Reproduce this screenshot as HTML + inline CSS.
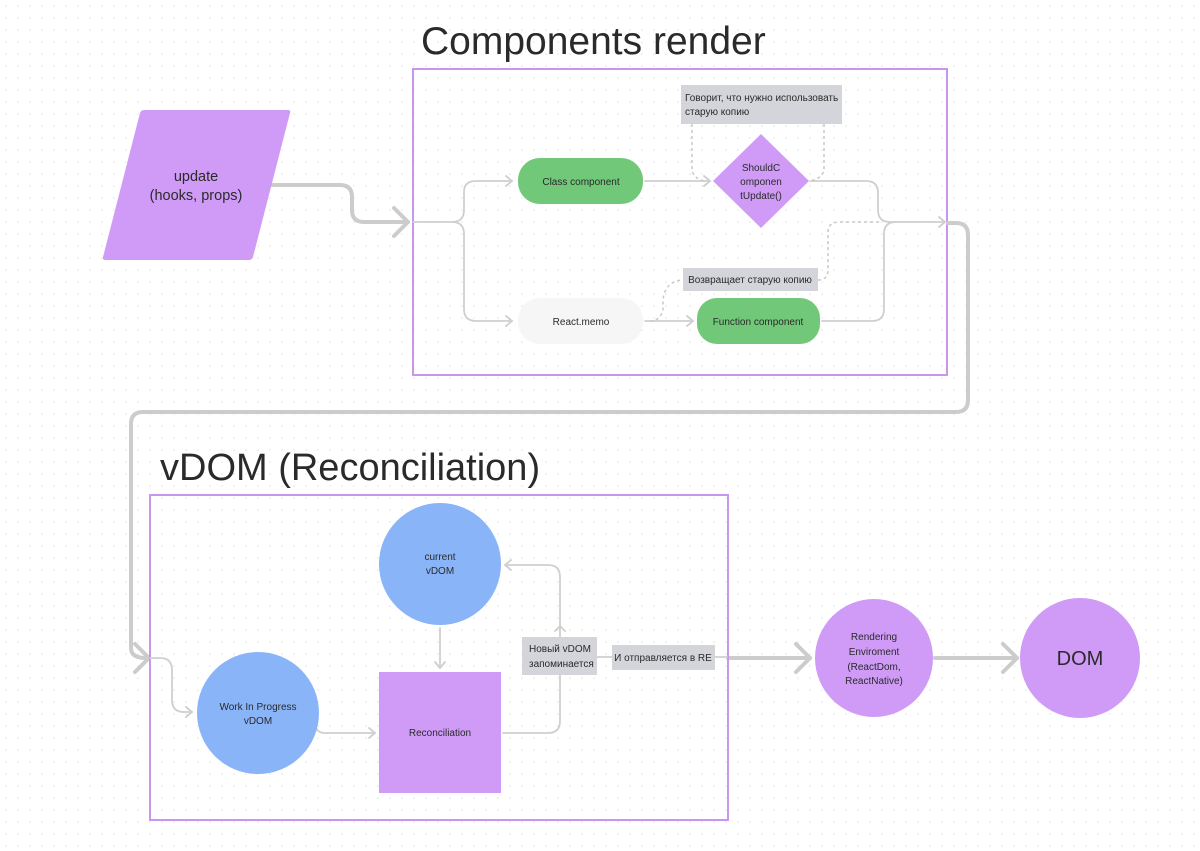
<!DOCTYPE html>
<html><head><meta charset="utf-8"><style>
html,body{margin:0;padding:0;background:#fff}
svg{display:block}
text{font-family:"Liberation Sans","Noto Sans CJK SC",sans-serif;fill:#2a2a2a}
</style></head><body>
<svg width="1200" height="851" viewBox="0 0 1200 851" xmlns="http://www.w3.org/2000/svg">
<defs>
<pattern id="dots" x="0" y="0" width="12" height="12" patternUnits="userSpaceOnUse"><circle cx="6" cy="6" r="0.8" fill="#e2e2e2"/></pattern>
</defs>
<rect width="1200" height="851" fill="#fff"/>
<rect width="1200" height="851" fill="url(#dots)"/>

<text x="421" y="54" font-size="39">Components render</text>
<rect x="413" y="69" width="534" height="306" fill="none" stroke="#c996ef" stroke-width="2"/>

<g fill="none" stroke="#cccccc" stroke-width="4" stroke-linecap="round" stroke-linejoin="round">
<path d="M272 185 H340 Q352 185 352 197 V210 Q352 222 364 222 H408"/>
<path d="M394 208 L408 222 L394 236"/>
<path d="M948 223 H956 Q968 223 968 235 V400 Q968 412 956 412 H143 Q131 412 131 424 V648 Q131 658 146 658"/>
<path d="M135 644 L149 658 L135 672"/>
<path d="M728 658 H810"/>
<path d="M796 644 L810 658 L796 672"/>
<path d="M935 658 H1017"/>
<path d="M1003 644 L1017 658 L1003 672"/>
</g>

<g fill="none" stroke="#cfcfcf" stroke-width="1.8" stroke-linecap="round">
<path d="M413 222 H452 Q464 222 464 210 V192 Q464 181 476 181 H512"/>
<path d="M506 176 L512 181 L506 186"/>
<path d="M452 222 Q464 222 464 234 V309 Q464 321 476 321 H512"/>
<path d="M506 316 L512 321 L506 326"/>
<path d="M645 181 H710"/>
<path d="M704 176 L710 181 L704 186"/>
<path d="M810 181 H866 Q878 181 878 193 V210 Q878 222 890 222 H945"/>
<path d="M939 217 L945 222 L939 227"/>
<path d="M822 321 H872 Q884 321 884 309 V234 Q884 222 896 222"/>
<path d="M645 321 H693"/>
<path d="M687 316 L693 321 L687 326"/>
</g>
<g fill="none" stroke="#c8c8c8" stroke-width="1.5" stroke-dasharray="3,3">
<path d="M692 124 V168 Q692 178 704 181"/>
<path d="M824 124 V168 Q824 178 810 181"/>
<path d="M650 321 Q660 321 663 310 V300 Q665 281 683 280"/>
<path d="M818 280 Q828 280 828 270 V232 Q828 222 840 222 H880"/>
</g>

<path d="M144 110 H288 Q291 110 290 113 L253 257 Q252 260 249 260 H106 Q102 260 103 257 L140 113 Q141 110 144 110Z" fill="#d09bf7"/>
<text x="196" y="181" font-size="14.5" text-anchor="middle">update</text>
<text x="196" y="200" font-size="14.5" text-anchor="middle">(hooks, props)</text>

<rect x="518" y="158" width="125" height="46" rx="22" fill="#71c878"/>
<text x="581" y="185" font-size="10" text-anchor="middle">Class component</text>
<path d="M761 134 L809 181 L761 228 L713 181Z" fill="#d09bf7"/>
<text x="761" y="171" font-size="10" text-anchor="middle">ShouldC</text>
<text x="761" y="185" font-size="10" text-anchor="middle">omponen</text>
<text x="761" y="199" font-size="10" text-anchor="middle">tUpdate()</text>
<rect x="681" y="85" width="161" height="39" fill="#d3d5db"/>
<text x="685" y="101" font-size="10">Говорит, что нужно использовать</text>
<text x="685" y="115" font-size="10">старую копию</text>
<rect x="518" y="298" width="125" height="46" rx="22" fill="#f6f6f6"/>
<text x="581" y="325" font-size="10" text-anchor="middle">React.memo</text>
<rect x="697" y="298" width="123" height="46" rx="20" fill="#71c878"/>
<text x="758" y="325" font-size="10" text-anchor="middle">Function component</text>
<rect x="683" y="268" width="135" height="23" fill="#d3d5db"/>
<text x="750" y="283" font-size="10" text-anchor="middle">Возвращает старую копию</text>

<text x="160" y="480" font-size="38">vDOM (Reconciliation)</text>
<rect x="150" y="495" width="578" height="325" fill="none" stroke="#c996ef" stroke-width="2"/>

<g fill="none" stroke="#cfcfcf" stroke-width="1.8" stroke-linecap="round">
<path d="M150 658 H160 Q172 658 172 670 V700 Q172 712 184 712 H192"/>
<path d="M186 707 L192 712 L186 717"/>
<path d="M289 714 H305 Q315 714 315 722 Q315 733 325 733 H375"/>
<path d="M369 728 L375 733 L369 738"/>
<path d="M440 628 V668"/>
<path d="M435 662 L440 668 L445 662"/>
<path d="M503 733 H548 Q560 733 560 721 V577 Q560 565 548 565 H505"/>
<path d="M511 560 L505 565 L511 570"/>
<path d="M555 631 L560 626 L565 631"/>
<path d="M597 657 H612"/>
<path d="M715 657 H727"/>
</g>

<ellipse cx="440" cy="564" rx="61" ry="61" fill="#8ab4f8"/>
<text x="440" y="560" font-size="10" text-anchor="middle">current</text>
<text x="440" y="574" font-size="10" text-anchor="middle">vDOM</text>
<ellipse cx="258" cy="713" rx="61" ry="61" fill="#8ab4f8"/>
<text x="258" y="710" font-size="10" text-anchor="middle">Work In Progress</text>
<text x="258" y="724" font-size="10" text-anchor="middle">vDOM</text>
<rect x="379" y="672" width="122" height="121" fill="#d09bf7"/>
<text x="440" y="736" font-size="10" text-anchor="middle">Reconciliation</text>
<rect x="522" y="637" width="75" height="38" fill="#d3d5db"/>
<text x="529" y="652" font-size="10">Новый vDOM</text>
<text x="529" y="667" font-size="10">запоминается</text>
<rect x="612" y="645" width="103" height="25" fill="#d3d5db"/>
<text x="663" y="661" font-size="10" text-anchor="middle">И отправляется в RE</text>

<circle cx="874" cy="658" r="59" fill="#d09bf7"/>
<text x="874" y="640" font-size="10" text-anchor="middle">Rendering</text>
<text x="874" y="655" font-size="10" text-anchor="middle">Enviroment</text>
<text x="874" y="670" font-size="10" text-anchor="middle">(ReactDom,</text>
<text x="874" y="684" font-size="10" text-anchor="middle">ReactNative)</text>
<circle cx="1080" cy="658" r="60" fill="#d09bf7"/>
<text x="1080" y="665" font-size="20" text-anchor="middle">DOM</text>
</svg>
</body></html>
